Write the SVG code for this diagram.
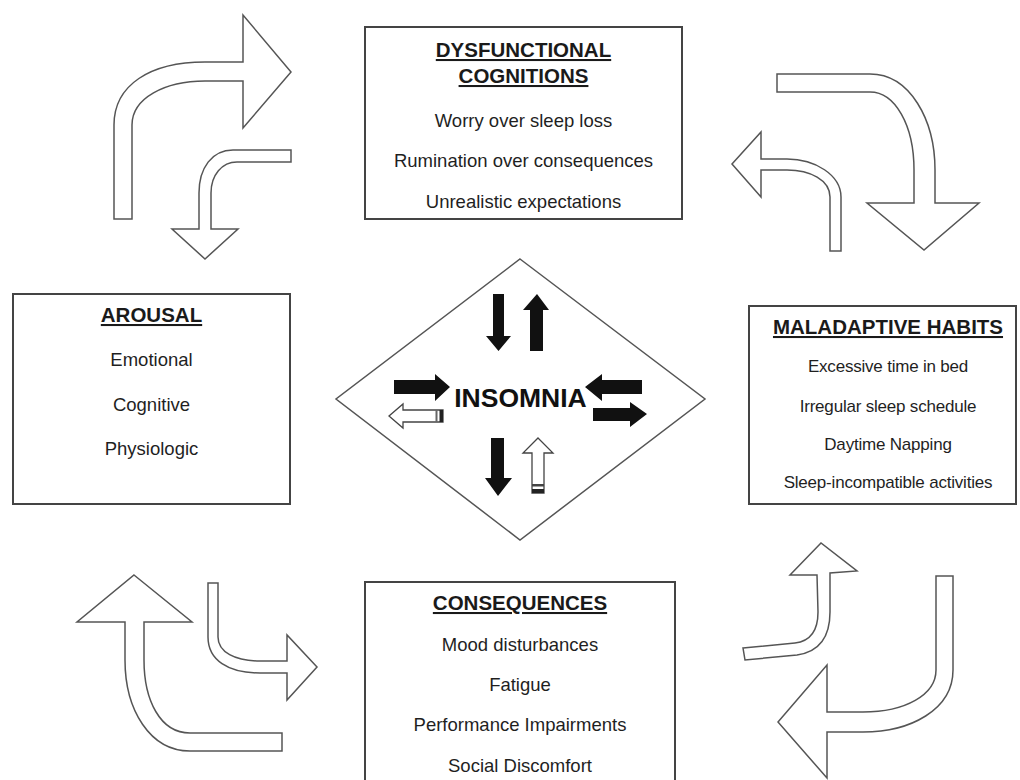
<svg xmlns="http://www.w3.org/2000/svg" width="1020" height="780" viewBox="0 0 1020 780">
<style>
  .box { fill: #fff; stroke: #444; stroke-width: 2; }
  .blk { fill: #fff; stroke: #555; stroke-width: 1.5; stroke-linejoin: miter; }
  .solid { fill: #111; stroke: none; }
  .hollow { fill: #fff; stroke: #444; stroke-width: 1.3; }
  .title { font-family: "Liberation Sans", Arial, sans-serif; font-size: 20.5px; font-weight: bold; fill: #1a1a1a; text-anchor: middle; text-decoration: underline; }
  .item { font-family: "Liberation Sans", Arial, sans-serif; font-size: 18.5px; fill: #1f1f1f; text-anchor: middle; }
  .itemS { font-family: "Liberation Sans", Arial, sans-serif; font-size: 17px; fill: #1f1f1f; text-anchor: middle; letter-spacing: -0.2px; }
  .center { font-family: "Liberation Sans", Arial, sans-serif; font-size: 26.5px; font-weight: bold; fill: #111; text-anchor: middle; }
</style>
<rect width="1020" height="780" fill="#fff"/>

<g id="connectors">
  <path class="blk" d="M114,219 L114,125 C114,85 150,62 205,62 L243,62 L243,15 L291,72 L243,128 L243,81 L205,81 C165,81 132,98 132,125 L132,219 Z"/>
  <path class="blk" d="M291,150 L233,150 C212,150 199,168 199,193 L199,229 L172,229 L205,259 L238,229 L211,229 L211,193 C211,175 222,162 237,162 L291,162 Z"/>
  <path class="blk" d="M777,74 L870,74 C910,74 935,120 935,170 L935,203 L979,203 L924,250 L867,203 L914,203 L914,170 C914,125 895,92 870,92 L777,92 Z"/>
  <path class="blk" d="M830,251 L841,251 L841,197 C841,175 815,159 787,159 L761,159 L761,132 L732,164 L761,197 L761,170 L787,170 C810,170 830,180 830,197 Z"/>
  <path class="blk" d="M134,575 L192,622 L144,622 L144,660 C144,700 160,733 190,733 L282,733 L282,751 L190,751 C150,751 125,710 125,660 L125,622 L77,622 Z"/>
  <path class="blk" d="M208,583 L218,583 L218,637 C218,652 235,661 260,661 L287,661 L287,635 L317,667 L287,700 L287,673 L260,673 C228,673 208,660 208,637 Z"/>
  <path class="blk" d="M743,648 L795,643 C812,641 818,628 818,612 L817,575 L790,575 L821,543 L857,571 L830,573 L830,612 C830,638 818,652 797,655 L745,660 Z"/>
  <path class="blk" d="M936,576 L953,576 L953,670 C953,710 910,732 863,732 L827,732 L827,778 L778,722 L827,665 L827,712 L863,712 C905,712 936,695 936,670 Z"/>
</g>

<g id="node-dysfunctional-cognitions">
  <rect class="box" x="365" y="27" width="317" height="192"/>
  <text class="title" x="523.5" y="57">DYSFUNCTIONAL</text>
  <text class="title" x="523.5" y="83">COGNITIONS</text>
  <text class="item" x="523.5" y="127">Worry over sleep loss</text>
  <text class="item" x="523.5" y="167">Rumination over consequences</text>
  <text class="item" x="523.5" y="208">Unrealistic expectations</text>
</g>

<g id="node-arousal">
  <rect class="box" x="13" y="294" width="277" height="210"/>
  <text class="title" x="151.5" y="322">AROUSAL</text>
  <text class="item" x="151.5" y="366">Emotional</text>
  <text class="item" x="151.5" y="411">Cognitive</text>
  <text class="item" x="151.5" y="455">Physiologic</text>
</g>

<g id="node-maladaptive-habits">
  <rect class="box" x="749" y="306" width="267" height="198"/>
  <text class="title" x="888" y="334">MALADAPTIVE HABITS</text>
  <text class="itemS" x="888" y="372">Excessive time in bed</text>
  <text class="itemS" x="888" y="412">Irregular sleep schedule</text>
  <text class="itemS" x="888" y="450">Daytime Napping</text>
  <text class="itemS" x="888" y="488">Sleep-incompatible activities</text>
</g>

<g id="node-consequences">
  <rect class="box" x="365" y="582" width="310" height="210"/>
  <text class="title" x="520" y="610">CONSEQUENCES</text>
  <text class="item" x="520" y="651">Mood disturbances</text>
  <text class="item" x="520" y="691">Fatigue</text>
  <text class="item" x="520" y="731">Performance Impairments</text>
  <text class="item" x="520" y="772">Social Discomfort</text>
</g>

<g id="node-insomnia">
  <polygon points="520,259 705,399 520,540 336,399" fill="#fff" stroke="#555" stroke-width="1.5"/>
  <text class="center" x="520.5" y="407">INSOMNIA</text>
  <g id="insomnia-arrows">
    <path class="solid" d="M493,294 L504,294 L504,336 L511,336 L498.5,351 L486,336 L493,336 Z"/>
    <path class="solid" d="M537,294 L549,310 L543,310 L543,351 L530,351 L530,310 L523,310 Z"/>
    <path class="solid" d="M394,380 L435,380 L435,374 L450,387 L435,401 L435,394 L394,394 Z"/>
    <path class="solid" d="M585,387 L602,374 L602,380 L642,380 L642,394 L602,394 L602,401 Z"/>
    <path class="solid" d="M593,408 L630,408 L630,402 L647,414 L630,427 L630,421 L593,421 Z"/>
    <path class="hollow" d="M389,416 L403,404 L403,410 L443,410 L443,422 L403,422 L403,428 Z"/>
    <rect x="435.5" y="410" width="2" height="12" fill="#666"/>
    <rect x="439.5" y="410" width="3.5" height="12" fill="#222"/>
    <path class="solid" d="M491,438 L504,438 L504,478 L512,478 L498,496 L485,478 L491,478 Z"/>
    <path class="hollow" d="M538,438 L553,453 L544,453 L544,493 L532,493 L532,453 L523,453 Z"/>
    <rect x="532" y="484" width="12" height="2.5" fill="#444"/>
    <rect x="532" y="489" width="12" height="4" fill="#222"/>
  </g>
</g>
</svg>
